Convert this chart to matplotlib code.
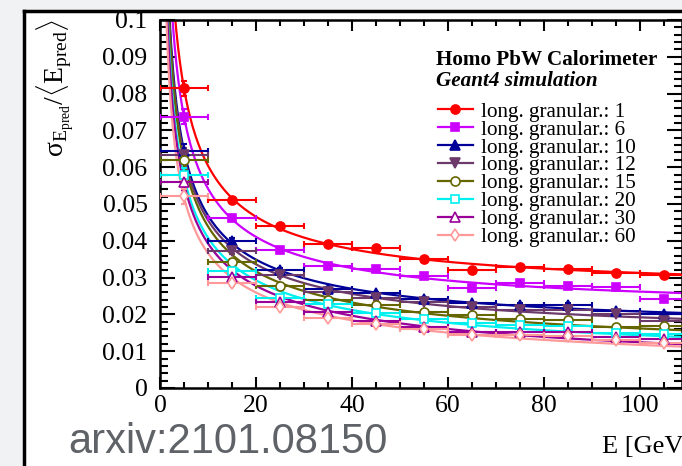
import numpy as np
import matplotlib
matplotlib.use("Agg")
import matplotlib.pyplot as plt
from matplotlib.lines import Line2D
from matplotlib.patches import Rectangle

plt.rcParams['font.family'] = ['Liberation Serif', 'DejaVu Serif']
plt.rcParams['mathtext.fontset'] = 'custom'
plt.rcParams['mathtext.rm'] = 'Liberation Serif'
plt.rcParams['mathtext.it'] = 'Liberation Serif:italic'
plt.rcParams['mathtext.bf'] = 'Liberation Serif:bold'

# Beam energy bin centres [GeV] and half bin width
energy = [5, 15, 25, 35, 45, 55, 65, 75, 85, 95, 105]
energy_halfwidth = 5.0

# Relative resolution sigma_E / <E> for each longitudinal granularity
res_g1 = [0.0814, 0.0510, 0.0440, 0.0391, 0.0380, 0.0351, 0.0322, 0.0328, 0.0323, 0.0312, 0.0308]
res_g6 = [0.0737, 0.0462, 0.0376, 0.0332, 0.0323, 0.0305, 0.0271, 0.0285, 0.0276, 0.0274, 0.0242]
res_g10 = [0.0644, 0.0400, 0.0321, 0.0270, 0.0258, 0.0243, 0.0231, 0.0226, 0.0226, 0.0208, 0.0200]
res_g12 = [0.0633, 0.0371, 0.0306, 0.0260, 0.0244, 0.0233, 0.0220, 0.0213, 0.0213, 0.0200, 0.0183]
res_g15 = [0.0619, 0.0342, 0.0277, 0.0240, 0.0226, 0.0206, 0.0198, 0.0188, 0.0185, 0.0165, 0.0168]
res_g20 = [0.0578, 0.0317, 0.0244, 0.0228, 0.0205, 0.0188, 0.0176, 0.0172, 0.0169, 0.0150, 0.0146]
res_g30 = [0.0559, 0.0302, 0.0233, 0.0206, 0.0181, 0.0165, 0.0151, 0.0153, 0.0153, 0.0138, 0.0132]
res_g60 = [0.0521, 0.0286, 0.0221, 0.0190, 0.0174, 0.0161, 0.0144, 0.0144, 0.0142, 0.0130, 0.0122]
res_err = [0.0020, 0.0008, 0.0005, 0.0004, 0.0004, 0.0004, 0.0004, 0.0004, 0.0004, 0.0004, 0.0004]

granularities = [1, 6, 10, 12, 15, 20, 30, 60]
series = [res_g1, res_g6, res_g10, res_g12, res_g15, res_g20, res_g30, res_g60]
colors = ['#ff0000', '#cc00ff', '#000099', '#6b3a6b', '#666600', '#00f0f0', '#990099', '#ff9999']
markers = ['o', 's', '^', 'v', 'o', 's', '^', 'd']
filled = [True, True, True, True, False, False, False, False]
msizes = [6.5, 6.0, 6.5, 6.5, 6.5, 6.0, 6.5, 6.5]

W, H = 682, 466
fig = plt.figure(figsize=(W / 100, H / 100), dpi=100, facecolor='#f1f2f3')


def fx(px):
    return px / W


def fy(py):
    return 1 - py / H


# White canvas with a dark frame edge
fig.add_artist(Rectangle((fx(24), 0), 1, fy(10.5), transform=fig.transFigure,
                         facecolor='white', edgecolor='none', zorder=0))
fig.add_artist(Line2D([fx(23.7), fx(23.7)], [0, fy(10.5)], transform=fig.transFigure,
                      color='black', lw=2.5, zorder=1))
fig.add_artist(Line2D([fx(23.7), 1], [fy(10.5), fy(10.5)], transform=fig.transFigure,
                      color='black', lw=2.5, zorder=1))

ax_l, ax_r, ax_t, ax_b = 160, 682, 20, 388
ax = fig.add_axes([fx(ax_l), fy(ax_b), fx(ax_r - ax_l), (ax_b - ax_t) / H])
ax.set_facecolor('none')
ax.set_xlim(0, (ax_r - ax_l) / 4.8)
ax.set_ylim(0, 0.1)

E = np.array(energy, dtype=float)
E_curve = np.linspace(0.3, 110, 600)
handles = []
for g, vals, c, m, f, ms in zip(granularities, series, colors, markers, filled, msizes):
    y = np.array(vals)
    # resolution fit: (sigma/E)^2 = a^2/E + b^2
    A = np.vstack([1.0 / E, np.ones_like(E)]).T
    coef, *_ = np.linalg.lstsq(A, y ** 2, rcond=None)
    coef = np.clip(coef, 0, None)
    ax.plot(E_curve, np.sqrt(coef[0] / E_curve + coef[1]), color=c, lw=1.6, zorder=2)
    ax.errorbar(E, y, xerr=energy_halfwidth, yerr=res_err, fmt='none', ecolor=c,
                elinewidth=1.5, capsize=2.2, capthick=1.5, zorder=3)
    ax.plot(E, y, ls='none', marker=m, ms=ms, color=c,
            mfc=c if f else 'white', mec=c, mew=1.2, zorder=4)
    handles.append(Line2D([], [], color=c, lw=1.6, marker=m, ms=ms,
                          mfc=c if f else 'white', mec=c, mew=1.2))

for side in ['left', 'right', 'top', 'bottom']:
    ax.spines[side].set_linewidth(1.8)
ax.set_xticks([0, 20, 40, 60, 80, 100])
ax.set_xticks(np.arange(0, 110, 5), minor=True)
ax.set_yticks(np.arange(0, 0.1001, 0.01))
ax.set_yticks(np.arange(0, 0.1001, 0.002), minor=True)
ax.set_yticklabels(['0', '0.01', '0.02', '0.03', '0.04', '0.05', '0.06', '0.07', '0.08', '0.09', '0.1'])
ax.set_xticklabels(['0', '20', '40', '60', '80', '100'])
ax.tick_params(axis='both', which='both', direction='in', top=True, right=True,
               width=1.5, labelsize=18.5, colors='black')
ax.tick_params(axis='x', which='major', length=8, pad=5)
ax.tick_params(axis='x', which='minor', length=4)
ax.tick_params(axis='y', which='major', length=11, pad=9)
ax.tick_params(axis='y', which='minor', length=5.5)

fig.text(fx(55), fy(19), r'$\mathrm{σ}_{\mathrm{E}_{\mathrm{pred}}}/\langle\mathrm{E}_{\mathrm{pred}}\rangle$',
         rotation=90, ha='center', va='top', fontsize=20)
fig.text(fx(602), fy(453), 'E [GeV]', ha='left', va='baseline', fontsize=19)

fig.text(fx(436), fy(65), 'Homo PbW Calorimeter', ha='left', va='baseline',
         fontsize=15.2, fontweight='bold')
fig.text(fx(436), fy(86), 'Geant4 simulation', ha='left', va='baseline',
         fontsize=15.2, fontweight='bold', fontstyle='italic')

leg = fig.legend(handles, [f'long. granular.: {g}' for g in granularities],
                 loc='upper left', bbox_to_anchor=(fx(438), fy(102)),
                 frameon=False, fontsize=15.2, handlelength=1.65, handletextpad=0.4,
                 labelspacing=-0.09, borderpad=0, borderaxespad=0)

fig.text(fx(68), fy(453), 'arxiv:2101.08150', ha='left', va='baseline',
         fontsize=30, color='#5f6368', family=['Liberation Sans', 'DejaVu Sans'])

fig.savefig('out.png', dpi=100, facecolor=fig.get_facecolor())
